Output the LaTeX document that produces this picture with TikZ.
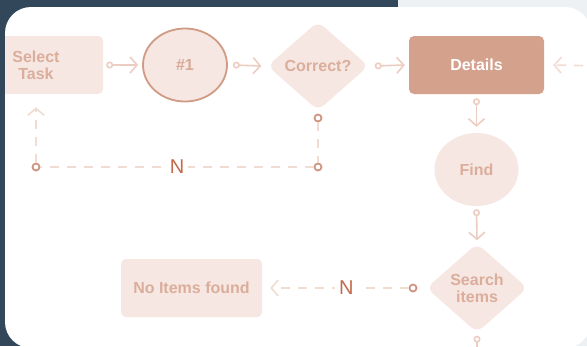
\documentclass[tikz,border=0pt]{standalone}
\usepackage{fontspec}
\setmainfont{Liberation Sans}
\usetikzlibrary{shapes.geometric,arrows.meta,calc}
\definecolor{darkbg}{HTML}{33475A}
\definecolor{greybg}{HTML}{EEF1F3}
\definecolor{palefill}{HTML}{F6E7E2}
\definecolor{paletext}{HTML}{DBAE9C}
\definecolor{detfill}{HTML}{D4A18D}
\definecolor{ringc}{HTML}{D09A84}
\definecolor{arrowc}{HTML}{EDCDC1}
\definecolor{dashc}{HTML}{F1DCD4}
\definecolor{dotc}{HTML}{CF9580}
\definecolor{nc}{HTML}{C26A4A}
\tikzset{
  lbl/.style={font=\fontsize{16}{17}\selectfont\bfseries, text=paletext, align=center},
  boxnode/.style={lbl, rectangle, rounded corners=5pt, fill=palefill, minimum height=58pt, inner sep=0pt},
  ovalnode/.style={lbl, ellipse, minimum width=84pt, minimum height=73pt, inner sep=0pt},
  decnode/.style={lbl, diamond, rounded corners=8pt, fill=palefill, minimum width=101pt, minimum height=89pt, inner sep=0pt, shape aspect=1.14},
  conn/.style={draw=arrowc, line width=1.6pt, arrows={Circle[open,length=7pt,width=7pt]-Straight Barb[length=7pt,width=16pt]}},
  dconn/.style={draw=dashc, line width=1.6pt, dash pattern=on 9pt off 8pt},
  dtip/.style={draw=dashc, line width=1.6pt, dash pattern=on 9pt off 8pt, arrows={-Straight Barb[length=7pt,width=16pt]}},
  dot/.style={circle, draw=dotc, line width=1.8pt, fill=white, minimum size=7pt, inner sep=0pt},
  nlbl/.style={font=\fontsize{20}{20}\selectfont, text=nc, fill=white, inner sep=4pt}
}
\begin{document}
\begin{tikzpicture}[x=1pt,y=-1pt]
\useasboundingbox (0,0) rectangle (587,346);
\fill[darkbg] (0,0) rectangle (398,346);
\fill[greybg] (398,0) rectangle (587,346);
\fill[white, rounded corners=26pt] (5,7) rectangle (591,348);
\begin{scope}
\clip[rounded corners=26pt] (5,7) rectangle (591,348);
% nodes
\node[boxnode, minimum width=134pt] (sel) at (36,65) {Select\\Task};
\node[ovalnode, draw=ringc, line width=1.8pt, fill=palefill, text=ringc!85] (one) at (185,65) {\#1};
\node[decnode] (cor) at (318,66) {Correct?};
\node[boxnode, fill=detfill, text=white, minimum width=135pt] (det) at (476.5,65) {Details};
\node[ovalnode, fill=palefill] (find) at (476.5,169.5) {Find};
\node[decnode] (srch) at (477,288) {Search\\items};
\node[boxnode, minimum width=141pt] (noi) at (191.5,288) {No Items found};
% solid connectors
\draw[conn] ($(sel.east)+(3,0)$) -- ($(one.west)+(-4,0)$);
\draw[conn] ($(one.east)+(5,0)$) -- ($(cor.west)+(-6,0)$);
\draw[conn] ($(cor.east)+(6,0)$) -- ($(det.west)+(-4,0)$);
\draw[conn] ($(det.south)+(0,4)$) -- ($(find.north)+(0,-6)$);
\draw[conn] ($(find.south)+(0,3)$) -- ($(srch.north)+(0,-3)$);
\coordinate (below) at (477,365);
\draw[conn, arrows={Circle[open,length=7pt,width=7pt]-}] ($(srch.south)+(0,3)$) -- (below);
% right incoming dashed arrow
\coordinate (rightin) at (600,66);
\draw[dtip, draw=arrowc!70] (rightin) -- ($(det.east)+(9,0)$);
% loop back from Correct?
\node[dot] (d1) at (318,118) {};
\node[dot] (d2) at (318,167) {};
\node[dot] (d3) at (36,167) {};
\draw[dconn] (d1) -- (d2);
\draw[dconn] (d2) -- node[nlbl] (n1) {N} (d3);
\draw[dtip] (d3) -- ($(sel.south)+(0,13)$);
% Search items -> No Items found
\node[dot] (d4) at (413,288) {};
\draw[dtip] (d4) -- node[nlbl, pos=0.45] (n2) {N} ($(noi.east)+(8,0)$);
\end{scope}
\end{tikzpicture}
\end{document}
